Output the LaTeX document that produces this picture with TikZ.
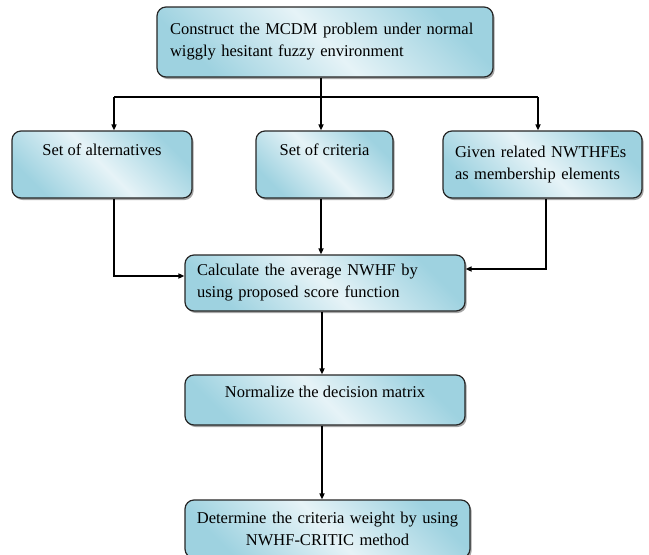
\documentclass[tikz,border=0pt]{standalone}
\usepackage{fontspec}
\setmainfont{Liberation Serif}
\usetikzlibrary{shadows,arrows.meta}
\definecolor{dk}{RGB}{158,210,224}
\definecolor{lt}{RGB}{230,243,247}
\newcommand{\fs}{\fontsize{16.5}{22}\selectfont}
\tikzset{
  box/.style={draw=black!85, line width=1.2pt, rounded corners=9pt,
    top color=dk, bottom color=dk, middle color=lt, shading angle=-45,
    drop shadow={shadow xshift=1.6pt, shadow yshift=-2pt, opacity=0.35, fill=black},
    font=\fs, inner sep=0pt},
  multibox/.style={box, align=left, inner xsep=12pt},
  line/.style={draw=black, line width=1.5pt},
  arr/.style={line, -{Triangle[length=6pt,width=5pt]}}
}
\begin{document}
\begin{tikzpicture}[x=1pt,y=-1pt]
\useasboundingbox (0,0) rectangle (649,555);
% boxes
\node[multibox, inner xsep=13pt, text width=310pt, minimum height=70pt] (top) at (325,42)
  {Construct the MCDM problem under normal\\wiggly hesitant fuzzy environment};
\node[box, minimum width=180pt, text height=24pt, text depth=43pt] (b1) at (102,164.5) {Set of alternatives};
\node[box, minimum width=137pt, text height=24pt, text depth=43pt] (b2) at (324.5,164.5) {Set of criteria};
\node[multibox, text width=175pt, minimum height=67pt] (b3) at (542.5,164.5)
  {Given related NWTHFEs\\as membership elements};
\node[multibox, text width=256pt, minimum height=56pt] (calc) at (325,283)
  {Calculate the average NWHF by\\using proposed score function};
\node[box, minimum width=280pt, text height=22.5pt, text depth=27.5pt] (norm) at (325,400)
  {Normalize the decision matrix};
\node[box, align=center, text width=270pt, inner xsep=7.5pt, minimum height=58pt] (det) at (327.5,529)
  {Determine the criteria weight by using\\NWHF-CRITIC method};
% connectors
\coordinate (j) at (321,97);
\coordinate (jl) at (114,97);
\coordinate (jr) at (538,97);
\coordinate (c1) at (114,276);
\coordinate (c3) at (546,269);
\coordinate (m) at (322,0);
\draw[line] (top.south -| j) -- (j);
\draw[line] (jl) -- (jr);
\draw[arr] (jl) -- (jl |- b1.north);
\draw[arr] (j) -- (j |- b2.north);
\draw[arr] (jr) -- (jr |- b3.north);
\draw[arr] (c1 |- b1.south) -- (c1) -- (c1 -| calc.west);
\draw[arr] (j |- b2.south) -- (j |- calc.north);
\draw[arr] (c3 |- b3.south) -- (c3) -- (c3 -| calc.east);
\draw[arr] (m |- calc.south) -- (m |- norm.north);
\draw[arr] (m |- norm.south) -- (m |- det.north);
\end{tikzpicture}
\end{document}
